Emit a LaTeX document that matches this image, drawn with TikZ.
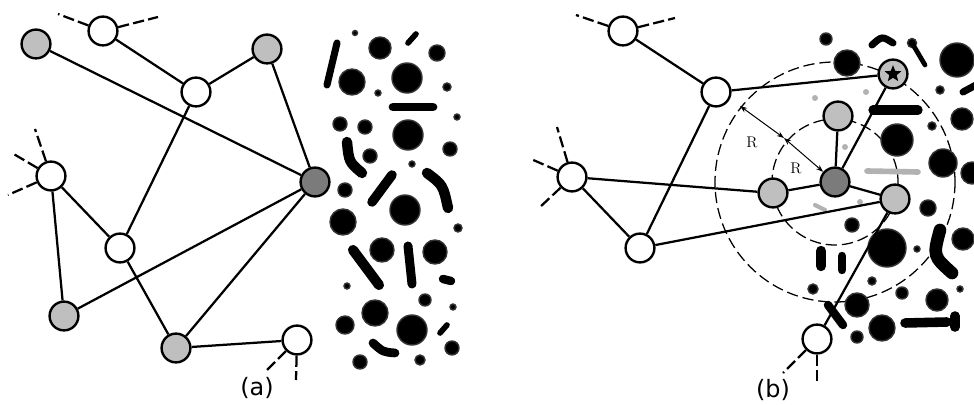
\documentclass[tikz,border=0pt]{standalone}
\usepackage{fontspec}
\usepackage{tikz}
\usetikzlibrary{arrows.meta,shapes.geometric,backgrounds}
\newfontfamily\lblfont{DejaVu Sans}
\definecolor{cLight}{HTML}{BFBFBF}
\definecolor{cDark}{HTML}{7B7B7B}
\tikzset{
  >={Stealth[length=1.8mm,width=1.3mm]},
  vtx/.style={circle,draw,line width=1.7pt,minimum size=0.72cm,inner sep=0pt,fill=white},
  vlt/.style={vtx,fill=cLight},
  vdk/.style={vtx,fill=cDark},
  lnk/.style={line width=1.6pt},
  stub/.style={line width=1.6pt,dash pattern=on 8pt off 3pt},
  rng/.style={line width=0.9pt,dash pattern=on 8pt off 3.5pt},
  blob/.style={fill=black,draw=black!80,line width=1pt},
  faint/.style={fill=black!30},
  rod/.style={line width=#1pt,line cap=round},
  lbl/.style={font=\lblfont\fontsize{17}{20}\selectfont},
  rlbl/.style={font=\fontsize{11}{13}\selectfont},
}

\begin{document}
\begin{tikzpicture}[x=0.025cm,y=-0.025cm]
  \useasboundingbox (0,0) rectangle (974,405);

  % (a) network
  \node[vlt] (ag1) at (36,44) {};
  \node[vtx] (aw1) at (103,31) {};
  \node[vtx] (aw2) at (196,92) {};
  \node[vlt] (ag2) at (267,49) {};
  \node[vdk] (ad) at (315,182) {};
  \node[vtx] (aw3) at (51,176) {};
  \node[vtx] (aw4) at (120,248) {};
  \node[vlt] (ag3) at (64,316) {};
  \node[vlt] (ag4) at (176,348) {};
  \node[vtx] (aw5) at (297,340) {};
  \draw[lnk] (ag1) -- (ad);
  \draw[lnk] (aw1) -- (aw2);
  \draw[lnk] (aw2) -- (ag2);
  \draw[lnk] (ag2) -- (ad);
  \draw[lnk] (aw2) -- (aw4);
  \draw[lnk] (aw3) -- (aw4);
  \draw[lnk] (aw3) -- (ag3);
  \draw[lnk] (ag3) -- (ad);
  \draw[lnk] (aw4) -- (ag4);
  \draw[lnk] (ag4) -- (ad);
  \draw[lnk] (ag4) -- (aw5);
  \coordinate (aw1l) at (58,14);  \coordinate (aw1r) at (158,17);
  \coordinate (aw3u) at (35,129); \coordinate (aw3l) at (12,153);
  \coordinate (aw3d) at (8,195);
  \coordinate (aw5l) at (265,372); \coordinate (aw5d) at (296,380);
  \foreach \a/\b in {aw1/aw1l,aw1/aw1r,aw3/aw3u,aw3/aw3l,aw3/aw3d,aw5/aw5l,aw5/aw5d}
    \draw[stub] (\a) -- (\b);
  \node[lbl] (la) at (257,388) {(a)};

  % (b) network
  \node[vtx] (bw1) at (623,31) {};
  \node[vtx] (bw2) at (716,92) {};
  \node[vtx] (bw3) at (572,177) {};
  \node[vtx] (bw4) at (640,248) {};
  \node[vlt] (bs) at (893,74) {};
  \node[vlt] (bg1) at (838,116) {};
  \node[vdk] (bd) at (835,182) {};
  \node[vlt] (bg2) at (773,193) {};
  \node[vlt] (bg3) at (895,199) {};
  \node[vtx] (bw5) at (817,339) {};
  \node[star,star points=5,star point ratio=2.3,fill=black,inner sep=0pt,
        minimum size=0.44cm] (bsm) at (bs) {};
  \draw[lnk] (bw1) -- (bw2);
  \draw[lnk] (bw2) -- (bw4);
  \draw[lnk] (bw2) -- (bs);
  \draw[lnk] (bw3) -- (bg2);
  \draw[lnk] (bw3) -- (bw4);
  \draw[lnk] (bw4) -- (bg3);
  \draw[lnk] (bg2) -- (bd);
  \draw[lnk] (bd) -- (bg1);
  \draw[lnk] (bd) -- (bs);
  \draw[lnk] (bd) -- (bg3);
  \draw[lnk] (bg3) -- (bw5);
  \coordinate (bw1l) at (576,15);  \coordinate (bw1r) at (675,18);
  \coordinate (bw3u) at (557,127); \coordinate (bw3l) at (531,159);
  \coordinate (bw3d) at (539,208);
  \coordinate (bw5l) at (783,373); \coordinate (bw5d) at (817,383);
  \foreach \a/\b in {bw1/bw1l,bw1/bw1r,bw3/bw3u,bw3/bw3l,bw3/bw3d,bw5/bw5l,bw5/bw5d}
    \draw[stub] (\a) -- (\b);
  \coordinate (ro) at (740,106);
  \coordinate (rm) at (784,138);
  \draw[<->,line width=0.7pt] (ro) -- (rm);
  \draw[<->,line width=0.7pt] (rm) -- (bd);
  \node[rlbl] (r1) at (752,142) {R};
  \node[rlbl] (r2) at (796,168) {R};
  \node[lbl] (lb) at (773,390) {(b)};

  \begin{scope}[on background layer]
    \draw[rng] (bd) circle (120);
    \draw[rng] (bd) circle (63);
    % (a) particles
    \foreach \x/\y/\r in {355/33/2.5,380/48/11,437/53/8,352/82/13,378/93/3,
        407/78/15,447/87/4,457/117/3,340/124/7,365/127/7,408/135/15,450/149/7,
        370/156/7,412/164/3,345/190/7,405/210/15,343/222/13,458/228/4,
        382/250/12,435/252/12,347/286/3,425/300/6,453/307/3,375/313/13,
        345/325/9,412/330/15,452/348/7,360/362/7,420/360/5}
      \fill[blob] (\x,\y) circle (\r);
    \foreach \xa/\ya/\xb/\yb/\w in {337/43/327/85/5,393/107/433/107/6.2,
        392/175/372/202/6.8,408/246/412/284/6.4,353/250/379/285/7.2,
        408/43/416/34/4,440/333/447/325/4,443/279/451/281/6}
      \draw[rod=\w] (\xa,\ya) -- (\xb,\yb);
    \draw[rod=7.4] (347,142) .. controls (349,162) .. (362,173);
    \draw[rod=7.4] (427,173) .. controls (443,185) .. (448,208);
    \draw[rod=6.2] (373,343) .. controls (383,352) .. (395,353);
    % (b) particles
    \foreach \x/\y/\r in {826/39/6,957/60/17,847/63/13,940/90/4,962/119/11,
        932/126/4,897/140/16,943/163/14,972/173/11,928/208/8,852/225/7,
        887/248/19,917/249/3,963/239/11,872/281/4,813/289/5,902/293/6,
        960/289/3,937/300/11,857/305/12,882/328/13,857/337/6,912/43/4.5}
      \fill[blob] (\x,\y) circle (\r);
    \foreach \x/\y/\r in {845/147/3,860/202/3,815/98/3,866/92/3}
      \fill[faint] (\x,\y) circle (\r);
    \foreach \xa/\ya/\xb/\yb/\w in {873/110/918/110/6.6,963/92/976/85/5,
        912/43/925/65/3.4,821/251/821/266/7.4,842/256/842/270/6,
        828/305/843/325/6,905/323/947/322/6.8,955/316/955/327/6.8}
      \draw[rod=\w] (\xa,\ya) -- (\xb,\yb);
    \draw[rod=4,black!30] (867,171) -- (918,172);
    \draw[rod=3,black!30] (815,205) -- (825,210);
    \draw[rod=5] (872,45) .. controls (882,36) .. (893,43);
    \draw[rod=9] (940,230) .. controls (933,256) .. (952,273);
  \end{scope}
\end{tikzpicture}
\end{document}
